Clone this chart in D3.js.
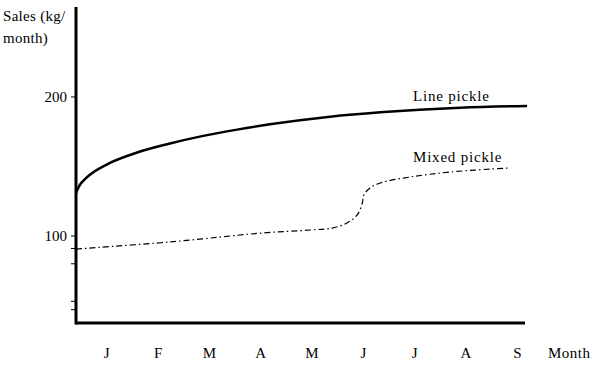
<!DOCTYPE html>
<html>
<head>
<meta charset="utf-8">
<script src="https://cdn.jsdelivr.net/npm/d3@7"></script>
<style>
  body { margin: 0; background: #fff; }
  svg text { font-family: "Liberation Serif", "Tinos", "DejaVu Serif", serif; font-size: 15px; fill: #000; }
</style>
</head>
<body>
<svg id="chart" width="599" height="366"></svg>
<script>
// month labels sit on positions 1..9
const monthLabels = ["J", "F", "M", "A", "M", "J", "J", "A", "S"];
const yTickValues = [200, 100, 91, 80, 53, 47];
const yTickLabels = { 200: "200", 100: "100" };

// Line pickle (solid)
const lineMonths = [0.4, 0.48, 0.58, 0.67, 1.06, 1.59, 2.23, 2.88, 3.54, 4.18, 5.35, 6.33, 7.89, 9.19];
const lineSales  = [131, 137, 141, 144, 152.5, 160, 166.5, 172, 176.5, 180.3, 185.8, 189, 192.3, 193.5];

// Mixed pickle (dashed)
const mixedMonths = [0.4, 2.23, 4.05, 4.96, 5.41, 5.68, 5.88, 5.98, 6.01, 6.13, 6.33, 6.91, 7.69, 8.82];
const mixedSales  = [90.6, 95.7, 102.2, 104.3, 105.8, 109.4, 115.1, 123.7, 129.5, 134.5, 138.1, 142.4, 146, 148.9];

const svg = d3.select("#chart");

const x = d3.scaleLinear().domain([0.4, 9.15]).range([76, 525]);
const y = d3.scaleLinear().domain([37.4, 264.7]).range([323, 7]);

// axes
svg.append("line")
    .attr("x1", x(0.4)).attr("x2", x(0.4))
    .attr("y1", y(264.7)).attr("y2", y(37.4) + 1.5)
    .attr("stroke", "#000").attr("stroke-width", 3);
svg.append("line")
    .attr("x1", x(0.4)).attr("x2", x(9.15))
    .attr("y1", y(37.4)).attr("y2", y(37.4))
    .attr("stroke", "#000").attr("stroke-width", 3);

// y ticks
const yTicks = svg.append("g");
yTicks.selectAll("line").data(yTickValues).join("line")
    .attr("x1", x(0.4) - 5).attr("x2", x(0.4))
    .attr("y1", d => y(d)).attr("y2", d => y(d))
    .attr("stroke", "#000").attr("stroke-width", 1);
yTicks.selectAll("text").data(yTickValues.filter(d => yTickLabels[d])).join("text")
    .attr("x", 67).attr("y", d => y(d) + 5)
    .attr("text-anchor", "end")
    .text(d => yTickLabels[d]);

// month labels
svg.append("g").selectAll("text").data(monthLabels).join("text")
    .attr("x", (d, i) => x(i + 1)).attr("y", 358)
    .attr("text-anchor", "middle")
    .text(d => d);

svg.append("text").attr("x", 548).attr("y", 358).attr("letter-spacing", 0.5).text("Month");
svg.append("text").attr("x", 3).attr("y", 21).attr("letter-spacing", 0.3).text("Sales (kg/");
svg.append("text").attr("x", 3).attr("y", 43).attr("letter-spacing", 0.3).text("month)");

const line = d3.line()
    .x(d => x(d[0]))
    .y(d => y(d[1]))
    .curve(d3.curveMonotoneX);

svg.append("path")
    .datum(d3.zip(lineMonths, lineSales))
    .attr("d", line)
    .attr("fill", "none")
    .attr("stroke", "#000")
    .attr("stroke-width", 2.5);

svg.append("path")
    .datum(d3.zip(mixedMonths, mixedSales))
    .attr("d", d3.line().x(d => x(d[0])).y(d => y(d[1])).curve(d3.curveCatmullRom))
    .attr("fill", "none")
    .attr("stroke", "#000")
    .attr("stroke-width", 1.2)
    .attr("stroke-dasharray", "6,3,1.5,3");

// series labels
svg.append("text").attr("x", 413).attr("y", 101).attr("letter-spacing", 0.8).text("Line pickle");
svg.append("text").attr("x", 413).attr("y", 162).attr("letter-spacing", 0.8).text("Mixed pickle");
</script>
</body>
</html>
